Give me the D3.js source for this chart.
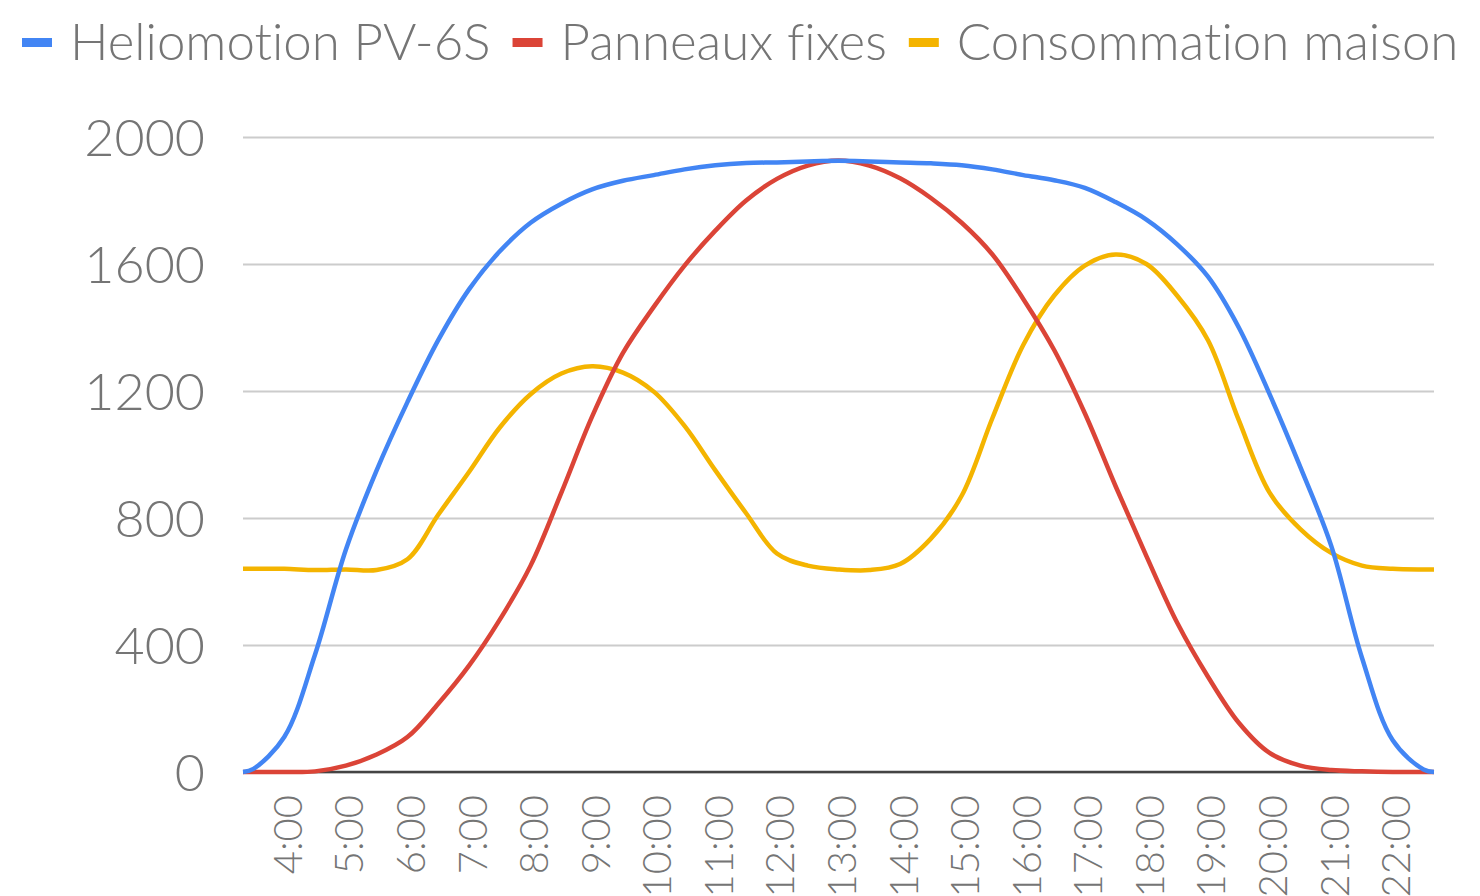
<!DOCTYPE html>
<html>
<head>
<meta charset="utf-8">
<script src="https://cdn.jsdelivr.net/npm/d3@7"></script>
<style>
  body { margin: 0; background: #fff; }
  text { font-family: Lato, "Open Sans", sans-serif; font-weight: 300; fill: #757575; font-variant-ligatures: none; }
</style>
</head>
<body>
<div id="chart"></div>
<script>
const hours = [3.33, 3.5, 4, 4.5, 5, 5.5, 6, 6.5, 7, 7.5, 8, 8.5, 9, 9.5, 10, 10.5, 11, 11.5, 12, 12.5,
               13, 13.5, 14, 14.5, 15, 15.5, 16, 16.5, 17, 17.5, 18, 18.5, 19, 19.5, 20, 20.5, 21, 21.5, 22, 22.5, 22.67]

const heliomotion = [0, 10, 110, 370, 700, 950, 1165, 1360, 1520, 1640, 1730, 1790, 1835, 1862, 1880, 1898, 1911, 1918, 1920, 1923,
                     1925, 1923, 1920, 1917, 1911, 1898, 1880, 1864, 1840, 1795, 1740, 1662, 1560, 1400, 1190, 960, 713, 360, 100, 8, 0]

const fixes = [0, 0, 0, 2, 20, 55, 110, 215, 335, 480, 650, 880, 1120, 1320, 1465, 1595, 1705, 1800, 1868, 1910,
               1926, 1910, 1870, 1808, 1730, 1630, 1490, 1330, 1130, 900, 680, 470, 300, 155, 60, 20, 6, 2, 0, 0, 0]

const consommation = [640, 640, 640, 636, 638, 636, 670, 810, 945, 1085, 1190, 1255, 1278, 1258, 1198, 1090, 950, 815, 688, 650,
                      638, 636, 655, 735, 870, 1115, 1345, 1500, 1595, 1630, 1600, 1500, 1360, 1108, 880, 765, 690, 650, 640, 638, 638]

const seriesNames = ["Heliomotion PV-6S", "Panneaux fixes", "Consommation maison"]
const seriesColors = ["#4285f4", "#db4437", "#f4b400"]
const tickHours = [4, 5, 6, 7, 8, 9, 10, 11, 12, 13, 14, 15, 16, 17, 18, 19, 20, 21, 22]
const tickLabels = ["4:00", "5:00", "6:00", "7:00", "8:00", "9:00", "10:00", "11:00", "12:00", "13:00",
                    "14:00", "15:00", "16:00", "17:00", "18:00", "19:00", "20:00", "21:00", "22:00"]
const yTicks = [0, 400, 800, 1200, 1600, 2000]

const width = 1480
const height = 896
const plotLeft = 243, plotRight = 1434, plotTop = 137, plotBottom = 772

const svg = d3.select("#chart")
              .append("svg")
              .attr("width", width)
              .attr("height", height)

const xScale = d3.scaleLinear()
                 .domain([3.33, 22.67])
                 .range([plotLeft, plotRight])
const yScale = d3.scaleLinear()
                 .domain([0, 2000])
                 .range([plotBottom, plotTop])

// grid + y labels
const yAxis = d3.axisLeft(yScale)
                .tickValues(yTicks)
                .tickSize(-(plotRight - plotLeft))
                .tickPadding(38)
                .tickFormat(d => d)

svg.append("g")
   .attr("transform", `translate(${plotLeft}, 0)`)
   .call(yAxis)
   .call(g => g.select(".domain").remove())
   .call(g => g.selectAll(".tick line").attr("stroke", "#cccccc").attr("stroke-width", 2))
   .call(g => g.selectAll(".tick text").attr("font-size", 52).attr("dy", "0.36em"))

// x labels (rotated)
const xAxis = d3.axisBottom(xScale)
                .tickValues(tickHours)
                .tickSize(0)
                .tickFormat((d, i) => tickLabels[i])

svg.append("g")
   .attr("transform", `translate(0, ${plotBottom})`)
   .call(xAxis)
   .call(g => g.select(".domain").remove())
   .call(g => g.selectAll(".tick text")
               .attr("font-size", 40)
               .attr("text-anchor", "end")
               .attr("dominant-baseline", "central")
               .attr("transform", "translate(2, 23) rotate(-90)")
               .attr("x", 0)
               .attr("y", 0)
               .attr("dy", 0))

// baseline
svg.append("line")
   .attr("x1", plotLeft)
   .attr("x2", plotRight)
   .attr("y1", yScale(0))
   .attr("y2", yScale(0))
   .attr("stroke", "#444")
   .attr("stroke-width", 2.5)

const line = d3.line()
               .x((d, i) => xScale(hours[i]))
               .y(d => yScale(d))
               .curve(d3.curveCatmullRom.alpha(0.5))

const allSeries = [heliomotion, fixes, consommation]

svg.selectAll(".series")
   .data([consommation, fixes, heliomotion])
   .enter()
   .append("path")
   .attr("class", "series")
   .attr("d", d => line(d))
   .attr("fill", "none")
   .attr("stroke", d => seriesColors[allSeries.indexOf(d)])
   .attr("stroke-width", 4.5)
   .attr("stroke-linejoin", "round")

// legend
let lx = 22
seriesNames.forEach((name, i) => {
  svg.append("rect")
     .attr("x", lx)
     .attr("y", 38)
     .attr("width", 30)
     .attr("height", 9)
     .attr("fill", seriesColors[i])
  const t = svg.append("text")
               .attr("x", lx + 48)
               .attr("y", 60)
               .attr("font-size", 51)
               .text(name)
  lx += 48 + t.node().getComputedTextLength() + 22
})
</script>
</body>
</html>
